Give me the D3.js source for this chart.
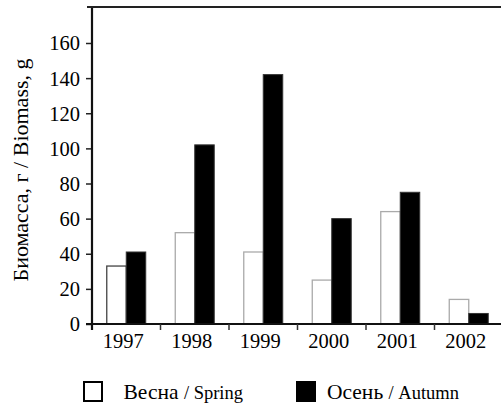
<!DOCTYPE html>
<html>
<head>
<meta charset="utf-8">
<script src="https://cdn.jsdelivr.net/npm/d3@7/dist/d3.min.js"></script>
<style>
  svg text, svg tspan { font-family: "Liberation Serif", serif; }
</style>
</head>
<body style="margin:0;padding:0;background:#fff">
<svg id="chart" width="501" height="408" style="display:block;font-family:'Liberation Serif',serif"></svg>
<script>
const years = ["1997", "1998", "1999", "2000", "2001", "2002"];
const spring = [33, 52, 41, 25, 64, 14];
const autumn = [41, 102, 142, 60, 75, 6];
const yTicks = [0, 20, 40, 60, 80, 100, 120, 140, 160];
const seriesKeys = ["spring", "autumn"];
const yTitle = "Биомасса, г / Biomass, g";
const legendItems = [
  { key: "spring", ru: "Весна", en: "/ Spring" },
  { key: "autumn", ru: "Осень", en: "/ Autumn" }
];

(function () {
const FS = (px) => `font-family:'Liberation Serif',serif;font-size:${px}px`;
const svg = d3.select("#chart");
const mLeft = 92, mRight = 503, mTop = 7, mBottom = 324;

const x = d3.scaleBand().domain(years).range([mLeft, mRight]).paddingInner(0).paddingOuter(0);
const xs = d3.scaleBand().domain(seriesKeys).range([0, x.bandwidth()]).paddingInner(0).paddingOuter(0.757);
const y = d3.scaleLinear().domain([0, 160]).range([mBottom, 43]);

const data = years.map((yr, i) => ({ year: yr, spring: spring[i], autumn: autumn[i], i }));

// bars
const g = svg.append("g");
data.forEach(d => {
  g.append("rect")
    .attr("x", x(d.year) + xs("spring"))
    .attr("y", y(d.spring))
    .attr("width", xs.bandwidth())
    .attr("height", y(0) - y(d.spring))
    .attr("fill", "#fff")
    .attr("stroke", d.i === 0 ? "#444" : "#aaa")
    .attr("stroke-width", 1.3);
  g.append("rect")
    .attr("x", x(d.year) + xs("autumn"))
    .attr("y", y(d.autumn))
    .attr("width", xs.bandwidth())
    .attr("height", y(0) - y(d.autumn))
    .attr("fill", "#000")
    .attr("stroke", "#333")
    .attr("stroke-width", 1);
});

// y axis
const yAxis = d3.axisLeft(y).tickValues(yTicks).tickSize(6).tickPadding(6).tickFormat(d3.format("d"));
const ya = svg.append("g").attr("transform", `translate(${mLeft},0)`).call(yAxis);
ya.attr("font-family", "Liberation Serif").attr("font-size", 20.5);
ya.select(".domain").remove();
ya.selectAll(".tick line").attr("stroke", "#222").attr("stroke-width", 1.5);
ya.selectAll(".tick text").attr("style", FS(20.5)).attr("fill", "#000").attr("dy", "0.34em");

// axis lines
svg.append("line").attr("x1", mLeft).attr("x2", mLeft).attr("y1", mTop - 1).attr("y2", mBottom + 6)
  .attr("stroke", "#111").attr("stroke-width", 2.2);
svg.append("line").attr("x1", mLeft - 5).attr("x2", 501).attr("y1", mTop).attr("y2", mTop)
  .attr("stroke", "#222").attr("stroke-width", 2.2);
svg.append("line").attr("x1", mLeft - 6).attr("x2", 501).attr("y1", mBottom).attr("y2", mBottom)
  .attr("stroke", "#111").attr("stroke-width", 2.2);

// x ticks at band boundaries
const xBounds = years.map(yr => x(yr)).slice(1);
svg.selectAll(".xt").data(xBounds).enter().append("line")
  .attr("x1", d => d).attr("x2", d => d).attr("y1", mBottom).attr("y2", mBottom + 6)
  .attr("stroke", "#333").attr("stroke-width", 1.5);

// x labels
svg.selectAll(".xl").data(years).enter().append("text")
  .attr("x", d => x(d) + x.bandwidth() / 2 - 3)
  .attr("y", mBottom + 24)
  .attr("text-anchor", "middle")
  .attr("style", FS(20.5))
  .text(d => d);

// y title
svg.append("text")
  .attr("transform", "translate(28,170) rotate(-90)")
  .attr("text-anchor", "middle")
  .attr("style", FS(22))
  .text(yTitle);

// legend
const legX = [83, 296];
const legTextX = [40.5, 31];
legendItems.forEach((it, i) => {
  const lg = svg.append("g").attr("transform", `translate(${legX[i]},381)`);
  lg.append("rect").attr("x", 1).attr("y", 1).attr("width", 18).attr("height", 19)
    .attr("fill", it.key === "spring" ? "#fff" : "#000")
    .attr("stroke", "#000").attr("stroke-width", 2);
  const t = lg.append("text").attr("x", legTextX[i]).attr("y", 18);
  t.append("tspan").attr("style", FS(21.5)).text(it.ru + " ");
  t.append("tspan").attr("style", FS(18.5)).text(it.en);
});
})();
</script>
</body>
</html>
